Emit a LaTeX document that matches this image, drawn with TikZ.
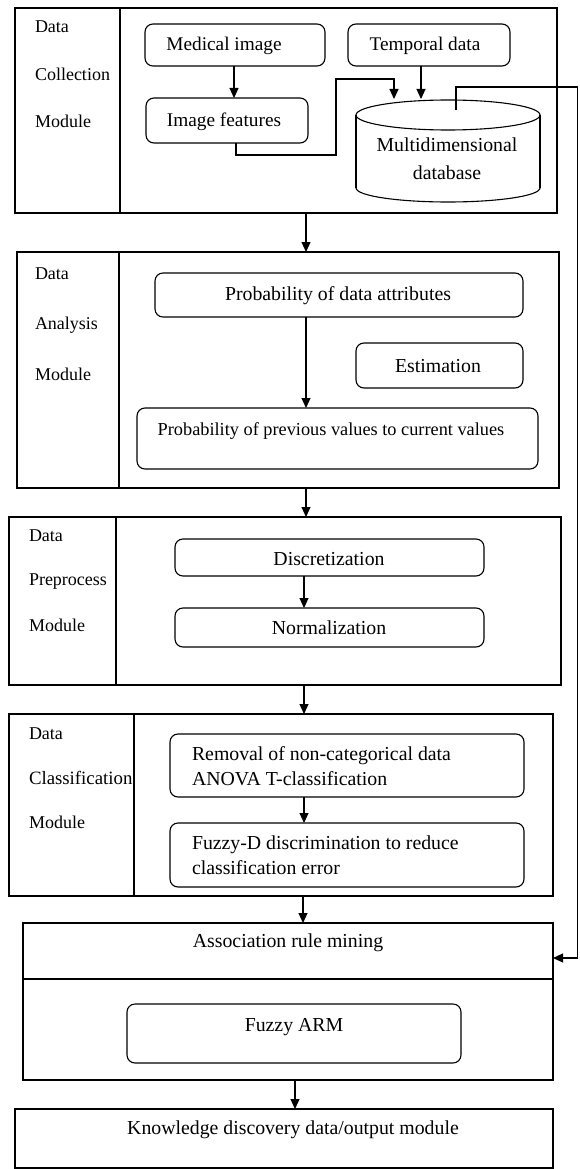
\documentclass[tikz,border=0pt]{standalone}
\usepackage{fontspec}
\setmainfont{Liberation Serif}
\usetikzlibrary{arrows.meta}
\begin{document}
\begin{tikzpicture}[x=1pt,y=-1pt,
  every node/.style={inner sep=0pt, outer sep=0pt},
  module/.style={draw, line width=1.2pt},
  rbox/.style={draw, line width=1.1pt, rounded corners=8pt},
  txt/.style={font=\fontsize{19.8}{23}\selectfont},
  lbl/.style={font=\fontsize{18}{23}\selectfont, anchor=west},
  ltxt/.style={txt, anchor=west},
  ln/.style={line width=1.1pt},
  arr/.style={line width=1.1pt, -{Triangle[length=10pt,width=9pt]}}]
\useasboundingbox (0,0) rectangle (579,1169);

% ---------- Module 1 : Data Collection ----------
\node[module, minimum width=542pt, minimum height=205pt] (m1) at (286,110.5) {};
\coordinate (d1) at (120,110);
\draw[module] (d1 |- m1.north) -- (d1 |- m1.south);
\node[lbl] (l1a) at (35,27) {Data};
\node[lbl] (l1b) at (35,74) {Collection};
\node[lbl] (l1c) at (35,121) {Module};

\node[rbox, minimum width=180pt, minimum height=42pt] (med) at (235,45) {};
\node[txt, font=\fontsize{19.3}{23}\selectfont] (medt) at (224,46) {Medical image};
\node[rbox, minimum width=162pt, minimum height=42pt] (tmp) at (429,45) {};
\node[txt, font=\fontsize{19.3}{23}\selectfont] (tmpt) at (425,46) {Temporal data};
\node[rbox, minimum width=162pt, minimum height=45pt] (imf) at (227,120.5) {};
\node[txt, font=\fontsize{19.3}{23}\selectfont] (imft) at (224,122) {Image features};

% cylinder (multidimensional database)
\draw[ln] (448,115) ellipse [x radius=92pt, y radius=15pt];
\draw[ln] (356,115) -- (356,188);
\draw[ln] (540,115) -- (540,188);
\draw[ln] (356,188) arc[start angle=180, end angle=360, x radius=92pt, y radius=14pt];
\node[txt, align=center, font=\fontsize{19.8}{28}\selectfont] (db) at (447,159) {Multidimensional\\database};

\coordinate (a1) at (234,0);
\draw[arr] (med.south -| a1) -- (imf.north -| a1);
\coordinate (dbin1) at (394,99);
\coordinate (dbin2) at (421,99);
\draw[arr] (tmp.south -| dbin2) -- (dbin2);
\coordinate (k1) at (236,155);
\coordinate (k2) at (336,155);
\coordinate (k3) at (336,79);
\coordinate (k4) at (394,79);
\draw[arr] (imf.south -| k1) -- (k1) -- (k2) -- (k3) -- (k4) -- (dbin1);

% ---------- Module 2 : Data Analysis ----------
\node[module, minimum width=542pt, minimum height=236pt] (m2) at (288,370) {};
\coordinate (d2) at (119,370);
\draw[module] (d2 |- m2.north) -- (d2 |- m2.south);
\node[lbl] (l2a) at (35,274) {Data};
\node[lbl] (l2b) at (35,325) {Analysis};
\node[lbl] (l2c) at (35,374) {Module};

\node[rbox, minimum width=368pt, minimum height=44pt] (pda) at (339,295) {};
\node[txt] (pdat) at (338,296) {Probability of data attributes};
\node[rbox, minimum width=167pt, minimum height=45pt] (est) at (439.5,365.5) {};
\node[txt] (estt) at (438,366) {Estimation};
\node[rbox, minimum width=401pt, minimum height=61pt] (ppv) at (337.5,438.5) {};
\node[txt, font=\fontsize{18.3}{23}\selectfont] (ppvt) at (331,431) {Probability of previous values to current values};
\coordinate (a2) at (306,0);
\draw[arr] (pda.south -| a2) -- (ppv.north -| a2);

% ---------- Module 3 : Data Preprocess ----------
\node[module, minimum width=552pt, minimum height=168pt] (m3) at (285,601) {};
\coordinate (d3) at (116,601);
\draw[module] (d3 |- m3.north) -- (d3 |- m3.south);
\node[lbl] (l3a) at (29,536) {Data};
\node[lbl] (l3b) at (29,582) {Preprocess};
\node[lbl] (l3c) at (29,625) {Module};

\node[rbox, minimum width=309pt, minimum height=37pt] (disc) at (329.5,557.5) {};
\node[txt] (disct) at (329,559) {Discretization};
\node[rbox, minimum width=309pt, minimum height=39pt] (norm) at (329.5,627.5) {};
\node[txt] (normt) at (329,628) {Normalization};
\coordinate (a3) at (304,0);
\draw[arr] (disc.south -| a3) -- (norm.north -| a3);

% ---------- Module 4 : Data Classification ----------
\node[module, minimum width=544pt, minimum height=182pt] (m4) at (281,805) {};
\coordinate (d4) at (134,805);
\draw[module] (d4 |- m4.north) -- (d4 |- m4.south);
\node[lbl] (l4a) at (29,734) {Data};
\node[lbl, font=\fontsize{18.8}{23}\selectfont] (l4b) at (29,778) {Classification};
\node[lbl] (l4c) at (29,822) {Module};

\node[rbox, minimum width=354pt, minimum height=63pt] (rem) at (347,765.5) {};
\node[ltxt] (remt1) at (192,756) {Removal of non-categorical data};
\node[ltxt] (remt2) at (192,779) {ANOVA T-classification};
\node[rbox, minimum width=354pt, minimum height=64pt] (fuz) at (347,855) {};
\node[ltxt] (fuzt1) at (192,845) {Fuzzy-D discrimination to reduce};
\node[ltxt] (fuzt2) at (192,868) {classification error};
\draw[arr] (rem.south -| a3) -- (fuz.north -| a3);

% ---------- Association rule mining ----------
\node[module, minimum width=530pt, minimum height=157pt] (m5) at (288,1001.5) {};
\coordinate (d5) at (288,979);
\draw[module] (m5.west |- d5) -- (m5.east |- d5);
\node[txt] (m5t) at (288,943) {Association rule mining};
\node[rbox, minimum width=334pt, minimum height=59pt] (farm) at (294,1033.5) {};
\node[txt] (farmt) at (294,1027) {Fuzzy ARM};

% ---------- Knowledge discovery ----------
\node[module, minimum width=538pt, minimum height=59pt] (m6) at (284,1138.5) {};
\node[txt] (m6t) at (293,1130) {Knowledge discovery data/output module};

% ---------- flow between modules ----------
\coordinate (b1) at (306,0);
\coordinate (b2) at (306,0);
\coordinate (b3) at (304,0);
\coordinate (b4) at (303,0);
\coordinate (b5) at (295,0);
\draw[arr] (m1.south -| b1) -- (m2.north -| b1);
\draw[arr] (m2.south -| b2) -- (m3.north -| b2);
\draw[arr] (m3.south -| b3) -- (m4.north -| b3);
\draw[arr] (m4.south -| b4) -- (m5.north -| b4);
\draw[arr] (m5.south -| b5) -- (m6.north -| b5);

% ---------- feedback from database ----------
\coordinate (dbtop) at (456,110);
\coordinate (f1) at (456,87);
\coordinate (f2) at (577.5,87);
\coordinate (f3) at (577.5,958);
\draw[arr] (dbtop) -- (f1) -- (f2) -- (f3) -- (m5.east |- f3);
\end{tikzpicture}
\end{document}
